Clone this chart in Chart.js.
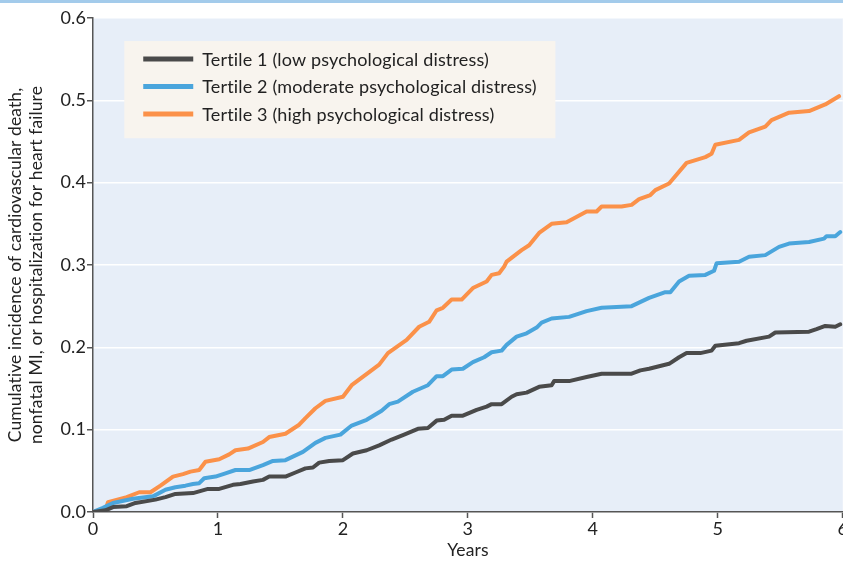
<!DOCTYPE html>
<html>
<head>
<meta charset="utf-8">
<script src="https://cdn.jsdelivr.net/npm/chart.js@4.4.1/dist/chart.umd.min.js"></script>
<style>
  html, body { margin: 0; padding: 0; background: #ffffff; overflow: hidden; }
  #wrap { position: relative; width: 848px; height: 561px; }
</style>
</head>
<body>
<div id="wrap"><canvas id="c"></canvas></div>
<script>
// ---- Data ----
const seriesLabels = [
  'Tertile 1 (low psychological distress)',
  'Tertile 2 (moderate psychological distress)',
  'Tertile 3 (high psychological distress)'
];
const xTickValues = [0, 1, 2, 3, 4, 5, 6];
const yTickValues = [0.0, 0.1, 0.2, 0.3, 0.4, 0.5, 0.6];

const t1Years = [0, 0.10, 0.16, 0.27, 0.34, 0.50, 0.58, 0.66, 0.80, 0.85, 0.92, 1.01, 1.12, 1.18, 1.28, 1.36, 1.41, 1.54, 1.62, 1.70, 1.76, 1.81, 1.89, 2.00, 2.08, 2.19, 2.29, 2.39, 2.49, 2.60, 2.68, 2.75, 2.81, 2.87, 2.96, 3.07, 3.15, 3.19, 3.27, 3.35, 3.39, 3.47, 3.57, 3.67, 3.69, 3.81, 3.95, 4.07, 4.31, 4.38, 4.45, 4.53, 4.61, 4.69, 4.75, 4.86, 4.95, 4.98, 5.17, 5.23, 5.41, 5.46, 5.73, 5.79, 5.86, 5.94, 5.98];
const t1Values = [0, 0.002, 0.006, 0.007, 0.011, 0.015, 0.018, 0.022, 0.023, 0.025, 0.028, 0.028, 0.033, 0.034, 0.037, 0.039, 0.043, 0.043, 0.048, 0.053, 0.054, 0.060, 0.062, 0.063, 0.071, 0.075, 0.081, 0.088, 0.094, 0.101, 0.102, 0.111, 0.112, 0.117, 0.117, 0.124, 0.128, 0.131, 0.131, 0.140, 0.143, 0.145, 0.152, 0.154, 0.159, 0.159, 0.164, 0.168, 0.168, 0.172, 0.174, 0.177, 0.180, 0.188, 0.193, 0.193, 0.196, 0.202, 0.205, 0.208, 0.213, 0.218, 0.219, 0.222, 0.226, 0.225, 0.228];

const t2Years = [0, 0.08, 0.16, 0.32, 0.48, 0.58, 0.66, 0.74, 0.80, 0.85, 0.89, 0.98, 1.06, 1.14, 1.25, 1.36, 1.44, 1.54, 1.68, 1.78, 1.86, 1.98, 2.07, 2.19, 2.31, 2.37, 2.44, 2.56, 2.68, 2.75, 2.80, 2.87, 2.96, 3.04, 3.13, 3.19, 3.27, 3.31, 3.39, 3.47, 3.55, 3.59, 3.67, 3.81, 3.95, 4.07, 4.31, 4.45, 4.58, 4.62, 4.69, 4.77, 4.90, 4.97, 4.99, 5.17, 5.25, 5.38, 5.49, 5.57, 5.73, 5.85, 5.87, 5.94, 5.98];
const t2Values = [0, 0.005, 0.011, 0.016, 0.019, 0.027, 0.030, 0.032, 0.034, 0.035, 0.041, 0.043, 0.047, 0.051, 0.051, 0.057, 0.062, 0.063, 0.073, 0.084, 0.090, 0.094, 0.105, 0.112, 0.123, 0.131, 0.134, 0.146, 0.154, 0.165, 0.165, 0.173, 0.174, 0.182, 0.188, 0.194, 0.196, 0.203, 0.213, 0.217, 0.224, 0.230, 0.235, 0.237, 0.244, 0.248, 0.250, 0.260, 0.267, 0.267, 0.280, 0.287, 0.288, 0.293, 0.302, 0.304, 0.310, 0.312, 0.322, 0.326, 0.328, 0.332, 0.335, 0.335, 0.340];

const t3Years = [0, 0.10, 0.12, 0.27, 0.37, 0.46, 0.54, 0.64, 0.72, 0.78, 0.85, 0.90, 1.01, 1.09, 1.14, 1.24, 1.36, 1.41, 1.54, 1.65, 1.70, 1.78, 1.86, 2.00, 2.07, 2.21, 2.29, 2.36, 2.51, 2.61, 2.69, 2.75, 2.80, 2.87, 2.95, 3.04, 3.15, 3.19, 3.25, 3.29, 3.31, 3.43, 3.49, 3.57, 3.67, 3.79, 3.95, 4.03, 4.07, 4.23, 4.31, 4.37, 4.46, 4.50, 4.61, 4.75, 4.90, 4.95, 4.98, 5.17, 5.25, 5.38, 5.43, 5.57, 5.73, 5.86, 5.97];
const t3Values = [0, 0.003, 0.012, 0.018, 0.024, 0.024, 0.032, 0.043, 0.046, 0.049, 0.051, 0.061, 0.064, 0.070, 0.075, 0.077, 0.085, 0.091, 0.095, 0.106, 0.114, 0.126, 0.135, 0.140, 0.154, 0.170, 0.179, 0.193, 0.209, 0.225, 0.231, 0.245, 0.248, 0.258, 0.258, 0.272, 0.280, 0.288, 0.290, 0.298, 0.304, 0.318, 0.324, 0.339, 0.350, 0.352, 0.365, 0.365, 0.371, 0.371, 0.373, 0.380, 0.385, 0.391, 0.399, 0.424, 0.431, 0.435, 0.446, 0.452, 0.461, 0.468, 0.476, 0.485, 0.487, 0.495, 0.505];

// ---- Styling ----
const FONT = 'Lato';
const seriesColors = ['#4a4a4a', '#4aa5dc', '#fb9149'];
const toPoints = (xs, ys) => xs.map((x, i) => ({ x: x, y: ys[i] }));

const frame = {
  id: 'frame',
  beforeDraw(chart) {
    const { ctx, chartArea: a } = chart;
    // non-zero letter spacing turns off optional ligatures (e.g. "ti")
    ctx.letterSpacing = '0.1px';
    ctx.save();
    ctx.fillStyle = '#a3cbeb';
    ctx.fillRect(0, 0, chart.width, 3);
    ctx.fillStyle = '#e7eef8';
    ctx.fillRect(a.left, a.top, a.right - a.left, a.bottom - a.top);
    ctx.restore();
  }
};

const insideLegend = {
  id: 'insideLegend',
  afterDatasetsDraw(chart) {
    const { ctx } = chart;
    const x = chart.scales.x, y = chart.scales.y;
    ctx.save();
    const bx = x.getPixelForValue(0.25), by = y.getPixelForValue(0.572);
    const bw = x.getPixelForValue(3.7) - bx, bh = y.getPixelForValue(0.454) - by;
    ctx.fillStyle = '#f8f4ee';
    ctx.fillRect(bx, by, bw, bh);
    ctx.font = '18px ' + FONT;
    ctx.letterSpacing = '0.15px';
    ctx.textBaseline = 'middle';
    ctx.textAlign = 'left';
    chart.data.datasets.forEach((ds, i) => {
      const cy = by + 18 + i * 27.5;
      ctx.strokeStyle = ds.borderColor;
      ctx.lineWidth = 5;
      ctx.beginPath();
      ctx.moveTo(bx + 19, cy);
      ctx.lineTo(bx + 69, cy);
      ctx.stroke();
      ctx.fillStyle = '#222222';
      ctx.fillText(ds.label, bx + 78, cy + 1);
    });
    ctx.restore();
  }
};

new Chart(document.getElementById('c'), {
  type: 'scatter',
  data: {
    datasets: [
      { label: seriesLabels[0], data: toPoints(t1Years, t1Values), borderColor: seriesColors[0], backgroundColor: seriesColors[0] },
      { label: seriesLabels[1], data: toPoints(t2Years, t2Values), borderColor: seriesColors[1], backgroundColor: seriesColors[1] },
      { label: seriesLabels[2], data: toPoints(t3Years, t3Values), borderColor: seriesColors[2], backgroundColor: seriesColors[2] }
    ].map(d => Object.assign(d, { showLine: true, borderWidth: 4, pointRadius: 0, tension: 0, borderJoinStyle: 'round', borderCapStyle: 'round' }))
  },
  options: {
    responsive: true,
    maintainAspectRatio: false,
    animation: false,
    layout: { padding: { top: 18, right: 0, bottom: 0, left: 0 } },
    plugins: { legend: { display: false }, tooltip: { enabled: false } },
    scales: {
      x: {
        type: 'linear', min: 0, max: 6,
        afterBuildTicks(s) { s.ticks = xTickValues.map(v => ({ value: v })); },
        afterFit(s) { s.height = 49; },
        border: { display: true, color: '#555555', width: 1.5 },
        grid: { display: true, drawOnChartArea: false, drawTicks: true, tickLength: 6, tickColor: '#555555', tickWidth: 1.5 },
        ticks: { color: '#222222', font: { family: FONT, size: 18 }, padding: 0, maxRotation: 0,
                 callback: v => String(v) },
        title: { display: true, text: 'Years', color: '#222222', font: { family: FONT, size: 17.5 }, padding: { top: 0, bottom: 0 } }
      },
      y: {
        type: 'linear', min: 0, max: 0.6,
        afterBuildTicks(s) { s.ticks = yTickValues.map(v => ({ value: v })); },
        afterFit(s) { s.width = 93; },
        border: { display: true, color: '#555555', width: 1.5 },
        grid: { display: true, color: '#ffffff', lineWidth: 1.5, drawTicks: true, tickLength: 6, tickColor: '#555555', tickWidth: 1.5 },
        ticks: { color: '#222222', font: { family: FONT, size: 18 }, padding: 1,
                 callback: v => Number(v).toFixed(1) },
        title: { display: true, text: ['Cumulative incidence of cardiovascular death,', 'nonfatal MI, or hospitalization for heart failure'],
                 color: '#222222', font: { family: FONT, size: 17.5, lineHeight: 1.2 }, padding: { top: 5, bottom: 0 } }
      }
    }
  },
  plugins: [frame, insideLegend]
});
</script>
</body>
</html>
